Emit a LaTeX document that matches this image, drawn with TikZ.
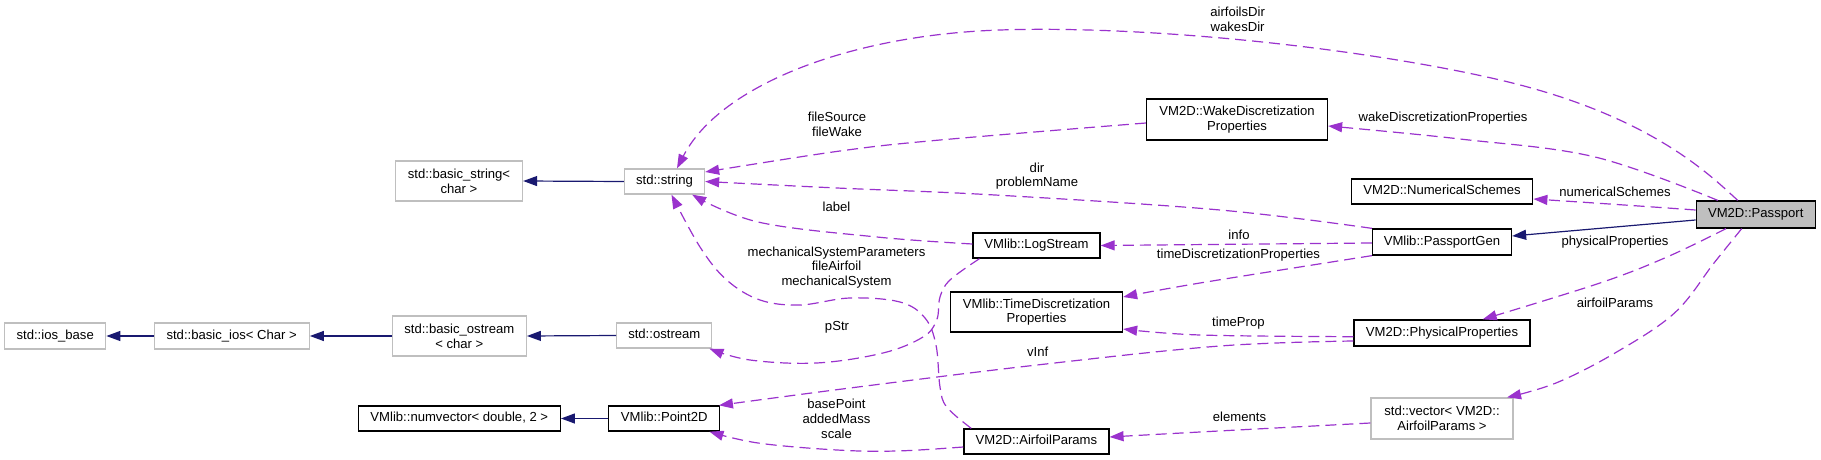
\documentclass[tikz,border=0pt]{standalone}
\usepackage{fontspec}
\setmainfont{Liberation Sans}
\usetikzlibrary{arrows.meta}
\definecolor{usecol}{RGB}{154,50,205}
\definecolor{inhcol}{RGB}{25,25,112}
\definecolor{greybd}{RGB}{191,191,191}
\begin{document}
\begin{tikzpicture}[x=1pt,y=-1pt,
  every node/.style={font=\fontsize{13.1pt}{14.7pt}\selectfont, inner sep=0pt, align=center},
  cls/.style={draw=black, line width=1.3pt, minimum width=#1, text height=9.5pt, text depth=2.8pt},
  ucls/.style={draw=greybd, line width=1.3pt, minimum width=#1, text height=9.5pt, text depth=2.8pt},
  two/.style={text height=, text depth=},
  boxh/.style={minimum height=#1},
  usage/.style={draw=usecol, line width=1.2pt, dash pattern=on 11pt off 6pt, -{Triangle[length=14pt,width=10pt,fill=usecol]}},
  inherit/.style={draw=inhcol, line width=1.2pt, -{Triangle[length=14pt,width=10pt,fill=inhcol]}},
  sm/.style={smooth, tension=0.6}
]
\useasboundingbox (0,0) rectangle (1821,460);
% nodes
\node[ucls=101pt, boxh=26pt] (iosbase) at (55.2,336) {std::ios\_base};
\node[ucls=155pt, boxh=26pt] (basicios) at (231.7,336) {std::basic\_ios< Char >};
\node[ucls=134pt, boxh=40pt, two] (basicostream) at (459.3,336) {std::basic\_ostream\\< char >};
\node[ucls=127pt, boxh=40pt, two] (basicstring) at (459,181) {std::basic\_string<\\ char >};
\node[cls=202pt, boxh=25pt] (numvector) at (459.3,418.5) {VMlib::numvector< double, 2 >};
\node[ucls=80pt, boxh=25pt] (string) at (664.5,181.5) {std::string};
\node[ucls=95pt, boxh=25pt] (ostream) at (664.3,335.5) {std::ostream};
\node[cls=111pt, boxh=25pt] (point2d) at (664.3,418.5) {VMlib::Point2D};
\node[cls=181pt, boxh=41pt, two] (wake) at (1237,119.5) {VM2D::WakeDiscretization\\Properties};
\node[cls=127pt, boxh=25pt] (logstream) at (1036.5,245.5) {VMlib::LogStream};
\node[cls=172pt, boxh=40pt, two] (timedisc) at (1036.5,312) {VMlib::TimeDiscretization\\Properties};
\node[cls=145pt, boxh=25pt] (airfoil) at (1036.4,441.5) {VM2D::AirfoilParams};
\node[cls=181.5pt, boxh=25pt] (numsch) at (1442,191.5) {VM2D::NumericalSchemes};
\node[cls=139pt, boxh=26pt] (passgen) at (1442,242) {VMlib::PassportGen};
\node[cls=176pt, boxh=26pt] (phys) at (1442,333) {VM2D::PhysicalProperties};
\node[ucls=142pt, boxh=41pt, two] (vector) at (1442,418.5) {std::vector< VM2D::\\AirfoilParams >};
\node[cls=119pt, boxh=27pt, fill=greybd] (passport) at (1755.7,214.5) {VM2D::Passport};

% inheritance
\draw[inherit] (string.west) -- (basicstring.east);
\draw[inherit] (ostream.west) -- (basicostream.east);
\draw[inherit] (basicostream.west) -- (basicios.east);
\draw[inherit] (basicios.west) -- (iosbase.east);
\draw[inherit] (point2d.west) -- (numvector.east);
\draw[inherit] ([yshift=-5.5pt]passport.west) -- ([yshift=6pt]passgen.east);

% usage edges from Passport
\draw[usage] ([xshift=-18pt]passport.north) .. controls (1710,175) and (1650,115) .. (1500,80)
  .. controls (1365,48.5) and (1150,25) .. (1000,30)
  .. controls (850,35) and (720,85) .. ([xshift=12.5pt]string.north);
\draw[usage] plot[sm] coordinates {([xshift=-38pt]passport.north) (1595,157) (1460,139) ([yshift=-6.5pt]wake.east)};
\draw[usage] ([yshift=4.5pt]passport.west) .. controls (1640,206) and (1580,202) .. ([yshift=-7.5pt]numsch.east);
\draw[usage] plot[sm] coordinates {([xshift=-29.7pt]passport.south) (1667,257) (1600,283) ([xshift=40.7pt]phys.north)};
\draw[usage] plot[sm] coordinates {([xshift=-14pt]passport.south) (1714,263) (1674.5,313) (1615,353) (1556,383) ([xshift=-6.6pt]vector.north east)};
% others
\draw[usage] plot[sm] coordinates {([yshift=-3.5pt]wake.west) (940,140) (840,151) ([yshift=9.5pt]string.east)};
\draw[usage] plot[sm] coordinates {(passgen.north west) (1220,210) (995,195) (837,188) (string.east)};
\draw[usage] ([yshift=-1pt]passgen.west) -- (logstream.east);
\draw[usage] plot[sm] coordinates {(passgen.south west) (1200,283) ([yshift=15pt]timedisc.east)};
\draw[usage] plot[sm] coordinates {([yshift=1.5pt]logstream.west) (876.8,237) (758,222) ([xshift=-13pt]string.south east)};
\draw[usage] plot[sm] coordinates {([xshift=8pt]airfoil.north west) (946.7,407) (940,387) (936,345) (925,318) (900,302) (850,298) (800,305) (760,300) (726.7,280) (700,247) ([xshift=7pt]string.south)};
\draw[usage] plot[sm] coordinates {([xshift=-57pt]logstream.south) (950,280) (940,297) (936.7,320) (923,337) (883,353) (816.7,363) (750,360) ([xshift=-3pt]ostream.south east)};
\draw[usage] plot[sm] coordinates {([yshift=-3.7pt]phys.west) (1200,335) ([yshift=-17pt]timedisc.east)};
\draw[usage] plot[sm] coordinates {([yshift=-8pt]phys.west) (1220,346) (1037,365) (850,388) ([xshift=-1.5pt]point2d.north east)};
\draw[usage] plot[sm] coordinates {([yshift=-5.5pt]airfoil.west) (896.6,451) (837,450) (758,443) ([xshift=-11pt]point2d.south east)};
\draw[usage] plot[sm] coordinates {([yshift=-4.5pt]vector.west) (1200,432) ([yshift=4.5pt]airfoil.east)};

% edge labels
\node (l1) at (1237.6,19.5) {airfoilsDir\\wakesDir};
\node (l2) at (1443,118) {wakeDiscretizationProperties};
\node (l3) at (1615,192) {numericalSchemes};
\node (l4) at (1615,242) {physicalProperties};
\node (l5) at (1615,303) {airfoilParams};
\node (l6) at (837,124.5) {fileSource\\fileWake};
\node (l7) at (1037,176) {dir\\problemName};
\node (l8) at (836.5,207) {label};
\node (l9) at (1239,235) {info};
\node (l10) at (1238.5,255) {timeDiscretizationProperties};
\node (l11) at (836.5,267.5) {mechanicalSystemParameters\\fileAirfoil\\mechanicalSystem};
\node (l12) at (837,327) {pStr};
\node (l13) at (1238.4,323) {timeProp};
\node (l14) at (1037.7,352) {vInf};
\node (l15) at (836.5,419) {basePoint\\addedMass\\scale};
\node (l16) at (1239.5,417) {elements};
\end{tikzpicture}
\end{document}
